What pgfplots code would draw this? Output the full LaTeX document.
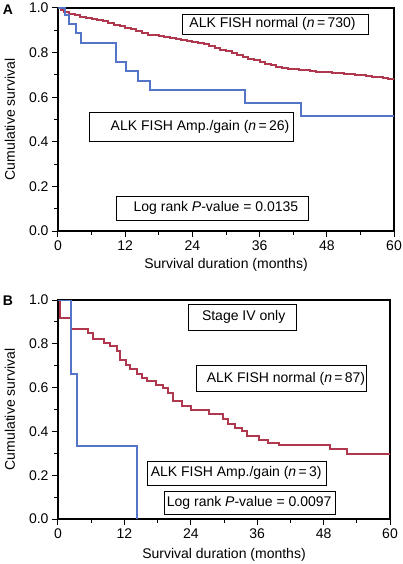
\documentclass[border=0pt]{standalone}
\usepackage{pgfplots}
\pgfplotsset{compat=1.18}
\usepackage{fontspec}
\setmainfont{Liberation Sans}
\definecolor{kmblue}{RGB}{84,116,200}
\definecolor{kmred}{RGB}{176,56,78}
\pgfplotsset{kmstyle/.style={
  scale only axis, xmin=0, xmax=60, ymin=0, ymax=1,
  xtick={0,12,24,36,48,60}, minor xtick={6,18,30,42,54},
  ytick={0,0.2,0.4,0.6,0.8,1.0}, minor ytick={0.1,0.3,0.5,0.7,0.9},
  tick align=outside, xtick pos=left, ytick pos=left,
  major tick length=6pt, minor tick length=3.5pt,
  tick style={black, line width=1pt},
  axis line style={line width=1.1pt},
  yticklabel style={/pgf/number format/fixed,/pgf/number format/precision=1,/pgf/number format/fixed zerofill},
  /pgf/number format/assume math mode=true,
  ticklabel style={font=\fontsize{14}{16}\selectfont},
  label style={font=\fontsize{14}{16}\selectfont},
  xlabel={Survival duration (months)},
  ylabel={Cumulative survival},
  every axis plot/.append style={const plot, line width=2pt, line join=miter},
}}
\pgfplotstableread{
t S
0 1.0
0.5 0.99
1 0.983
2 0.975
3 0.968
4 0.961
5 0.956
6 0.952
7 0.948
8 0.94
9 0.933
10 0.926
11 0.92
12 0.912
13 0.904
14 0.896
15 0.888
16 0.881
17 0.877
18 0.874
19 0.87
20 0.865
21 0.86
22 0.855
23 0.851
24 0.847
25 0.843
26 0.837
27 0.829
28 0.821
29 0.813
30 0.805
31 0.797
32 0.789
33 0.781
34 0.773
35 0.765
36 0.758
37 0.751
38 0.744
39 0.737
40 0.731
41 0.728
42 0.725
43 0.722
44 0.72
45 0.717
46 0.714
47 0.713
48 0.711
49 0.71
50 0.708
51 0.706
52 0.704
53 0.701
54 0.699
55 0.696
56 0.692
57 0.689
58 0.685
59 0.681
60 0.677
}\redA
\pgfplotstableread{
t S
0 1.0
1.2 0.969
2.0 0.928
3.2 0.886
4.1 0.844
10.4 0.759
12.1 0.717
14.2 0.673
16.4 0.632
33.4 0.573
43.4 0.516
60 0.516
}\blueA
\pgfplotstableread{
t S
0 1.0
0.4 0.916
2.3 0.866
5.4 0.849
6.4 0.822
8.4 0.805
9.4 0.789
10.6 0.768
11.2 0.725
12.3 0.702
13.0 0.683
14.2 0.66
15.1 0.643
16.0 0.628
17.8 0.612
19.0 0.597
19.9 0.575
20.8 0.54
22.4 0.515
24.1 0.497
27.3 0.48
29.9 0.455
30.8 0.432
32.0 0.415
33.2 0.4
34.1 0.378
36.4 0.36
38.0 0.348
40.0 0.338
49.2 0.318
52.2 0.298
60 0.298
}\redB
\pgfplotstableread{
t S
0 1.0
2.3 0.662
3.4 0.333
14.3 0.0
}\blueB
\begin{document}
\begin{tikzpicture}[font=\fontsize{14}{16}\selectfont]
\useasboundingbox (0,0) rectangle (402pt,-564pt);
\node[font=\fontsize{14}{16}\selectfont\bfseries] at (8pt,-10pt) {A};
\node[font=\fontsize{14}{16}\selectfont\bfseries] at (8pt,-301pt) {B};
\begin{axis}[kmstyle, at={(58pt,-231pt)}, anchor=south west,
  width=336pt, height=223pt,
  xlabel style={at={(axis description cs:0.5,-0.1525)}, anchor=center},
  ylabel style={at={(axis description cs:-0.143,0.5)}, anchor=center}]
\addplot[kmred] table[x=t,y=S] {\redA};
\addplot[kmblue] table[x=t,y=S] {\blueA};
\draw[line width=0.8pt, fill=white] (axis cs:22.27,0.973) rectangle (axis cs:55.36,0.883);
\node at (axis cs:38.3,0.928) {ALK FISH normal (\textit{n}\,=\,730)};
\draw[line width=0.8pt, fill=white] (axis cs:5.59,0.534) rectangle (axis cs:42.02,0.404);
\node at (axis cs:25.36,0.469) {ALK FISH Amp./gain (\textit{n}\,=\,26)};
\draw[line width=0.8pt, fill=white] (axis cs:10.36,0.157) rectangle (axis cs:44.64,0.046);
\node at (axis cs:28.2,0.1015) {Log rank \textit{P}-value = 0.0135};
\end{axis}
\begin{axis}[kmstyle, at={(58pt,-519pt)}, anchor=south west,
  width=332pt, height=219pt,
  xlabel style={at={(axis description cs:0.5,-0.164)}, anchor=center},
  ylabel style={at={(axis description cs:-0.1446,0.5)}, anchor=center}]
\addplot[kmred] table[x=t,y=S] {\redB};
\addplot[kmblue] table[x=t,y=S] {\blueB};
\draw[line width=0.8pt, fill=white] (axis cs:23.55,0.982) rectangle (axis cs:43.14,0.863);
\node at (axis cs:33.55,0.9225) {Stage IV only};
\draw[line width=0.8pt, fill=white] (axis cs:25.07,0.703) rectangle (axis cs:55.66,0.581);
\node at (axis cs:41.2,0.642) {ALK FISH normal (\textit{n}\,=\,87)};
\draw[line width=0.8pt, fill=white] (axis cs:16.21,0.262) rectangle (axis cs:48.56,0.155);
\node at (axis cs:32.2,0.2085) {ALK FISH Amp./gain (\textit{n}\,=\,3)};
\draw[line width=0.8pt, fill=white] (axis cs:19.16,0.128) rectangle (axis cs:50.06,0.023);
\node at (axis cs:34.55,0.0755) {Log rank \textit{P}-value = 0.0097};
\end{axis}
\end{tikzpicture}
\end{document}
